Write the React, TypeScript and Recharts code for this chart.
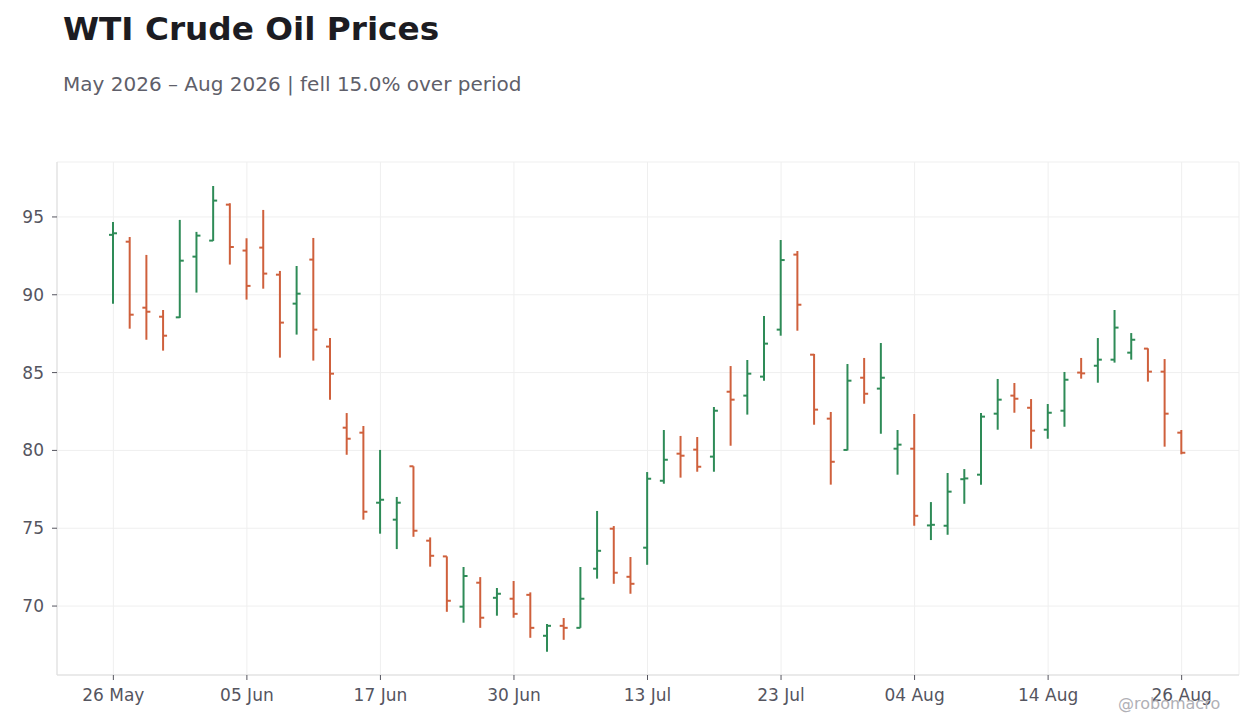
import React from 'react';
import { ComposedChart, Bar, XAxis, YAxis, CartesianGrid } from 'recharts';

// trading days (NYSE calendar), May 26 – Aug 26 2026
const dates = [
  '26 May', '27 May', '28 May', '29 May',
  '01 Jun', '02 Jun', '03 Jun', '04 Jun', '05 Jun',
  '08 Jun', '09 Jun', '10 Jun', '11 Jun', '12 Jun',
  '15 Jun', '16 Jun', '17 Jun', '18 Jun',
  '22 Jun', '23 Jun', '24 Jun', '25 Jun', '26 Jun',
  '29 Jun', '30 Jun', '01 Jul', '02 Jul',
  '06 Jul', '07 Jul', '08 Jul', '09 Jul', '10 Jul',
  '13 Jul', '14 Jul', '15 Jul', '16 Jul', '17 Jul',
  '20 Jul', '21 Jul', '22 Jul', '23 Jul', '24 Jul',
  '27 Jul', '28 Jul', '29 Jul', '30 Jul', '31 Jul',
  '03 Aug', '04 Aug', '05 Aug', '06 Aug', '07 Aug',
  '10 Aug', '11 Aug', '12 Aug', '13 Aug', '14 Aug',
  '17 Aug', '18 Aug', '19 Aug', '20 Aug', '21 Aug',
  '24 Aug', '25 Aug', '26 Aug',
];

const opens = [
  93.85, 93.41, 89.17, 88.59, 88.55, 92.45, 93.48, 95.79, 92.84, 93.03,
  91.29, 89.43, 92.26, 86.67, 81.46, 81.14, 76.64, 75.55, 78.98, 74.2,
  73.19, 69.96, 71.5, 70.53, 70.47, 70.72, 68.09, 68.73, 68.6, 72.4,
  74.97, 71.88, 73.75, 78.05, 79.79, 80.05, 79.6, 83.77, 83.52, 84.74,
  87.76, 92.58, 86.15, 82.04, 80.03, 84.67, 83.97, 80.11, 80.11, 75.18,
  75.16, 78.15, 78.44, 82.36, 83.52, 82.74, 81.33, 82.55, 85.0, 85.44,
  85.83, 86.28, 86.54, 85.06, 81.14,
];

const highs = [
  94.68, 93.71, 92.56, 89.02, 94.81, 94.04, 96.99, 95.88, 93.63, 95.45,
  91.53, 91.85, 93.65, 87.22, 82.4, 81.57, 80.03, 77.01, 78.98, 74.41,
  73.19, 72.51, 71.86, 71.16, 71.61, 70.88, 68.84, 69.23, 72.51, 76.11,
  75.14, 73.15, 78.61, 81.31, 80.93, 80.86, 82.79, 85.42, 85.81, 88.64,
  93.52, 92.81, 86.2, 82.47, 85.55, 85.94, 86.9, 81.31, 82.34, 76.68,
  78.55, 78.8, 82.4, 84.59, 84.33, 83.3, 82.98, 85.04, 85.94, 87.22,
  89.02, 87.54, 86.56, 85.87, 81.31,
];

const lows = [
  89.43, 87.82, 87.11, 86.41, 88.51, 90.14, 93.46, 91.94, 89.69, 90.39,
  85.96, 87.44, 85.77, 83.26, 79.72, 75.55, 74.65, 73.66, 74.45, 72.53,
  69.63, 68.93, 68.6, 69.38, 69.25, 67.96, 67.07, 67.83, 68.6, 71.76,
  71.43, 70.79, 72.65, 77.86, 78.25, 78.63, 78.63, 80.3, 82.3, 84.48,
  87.37, 87.69, 81.65, 77.8, 80.0, 83.0, 81.07, 78.44, 75.16, 74.24,
  74.58, 76.57, 77.8, 81.33, 82.42, 80.11, 80.75, 81.52, 84.61, 84.35,
  85.64, 85.83, 84.42, 80.24, 79.75,
];

const closes = [
  93.95, 88.72, 88.91, 87.37, 92.19, 93.8, 96.05, 93.07, 90.57, 91.36,
  88.21, 90.07, 87.76, 84.93, 80.75, 76.06, 76.83, 76.64, 74.84, 73.23,
  70.34, 71.93, 69.25, 70.79, 69.5, 68.6, 68.73, 68.6, 70.47, 73.55,
  72.14, 71.43, 78.18, 79.4, 79.66, 78.95, 82.55, 83.26, 84.93, 86.86,
  92.23, 89.36, 82.62, 79.27, 84.48, 83.64, 84.67, 80.37, 75.8, 75.22,
  77.35, 78.2, 82.17, 83.26, 83.32, 81.27, 82.42, 84.54, 84.95, 85.83,
  87.89, 87.11, 85.06, 82.36, 79.85,
];

const yTicks = [70, 75, 80, 85, 90, 95];

const UP = '#2e8b57';
const DOWN = '#cf603c';
const FONT = '"DejaVu Sans", sans-serif';

const data = dates.map((date, i) => ({
  date,
  open: opens[i],
  high: highs[i],
  low: lows[i],
  close: closes[i],
  range: [lows[i], highs[i]],
}));

const OhlcShape = (props: any) => {
  const { x, y, width, height, payload } = props;
  const cx = x + width / 2;
  const { open, high, low, close } = payload;
  const span = high - low || 1;
  const py = (v: number) => y + ((high - v) / span) * height;
  const color = close >= open ? UP : DOWN;
  return (
    <g>
      <line x1={cx} x2={cx} y1={y} y2={y + height} stroke={color} strokeWidth={2} />
      <line x1={cx - 4} x2={cx} y1={py(open)} y2={py(open)} stroke={color} strokeWidth={2} />
      <line x1={cx} x2={cx + 4} y1={py(close)} y2={py(close)} stroke={color} strokeWidth={2} />
    </g>
  );
};

const tickStyle = { fill: '#55555f', fontSize: 17, fontFamily: FONT };

export default function App() {
  return (
    <div style={{ position: 'absolute', left: 0, top: 0, width: 1260, height: 728, background: '#fff', fontFamily: FONT }}>
      <div style={{ position: 'absolute', left: 63, top: 10, fontSize: 32.7, fontWeight: 'bold', color: '#1c1c22', whiteSpace: 'nowrap' }}>
        WTI Crude Oil Prices
      </div>
      <div style={{ position: 'absolute', left: 63, top: 72, fontSize: 20, color: '#5f5f6a', whiteSpace: 'nowrap' }}>
        May 2026 – Aug 2026 | fell 15.0% over period
      </div>
      <ComposedChart
        width={1260}
        height={728}
        data={data}
        margin={{ top: 162, right: 21, bottom: 13, left: 0 }}
      >
        <CartesianGrid stroke="#efefef" />
        <XAxis
          dataKey="date"
          interval={7}
          padding={{ left: 48, right: 49 }}
          height={40}
          tick={tickStyle}
          tickSize={5}
          tickMargin={9}
          axisLine={{ stroke: '#dddddd' }}
          tickLine={{ stroke: '#55555f' }}
        />
        <XAxis xAxisId="top" dataKey="date" orientation="top" height={0} tick={false} tickLine={false} axisLine={{ stroke: '#dddddd' }} />
        <YAxis
          domain={[65.57, 98.53]}
          ticks={yTicks}
          width={57}
          tick={tickStyle}
          tickSize={5}
          tickMargin={8}
          axisLine={{ stroke: '#dddddd' }}
          tickLine={{ stroke: '#55555f' }}
        />
        <YAxis yAxisId="right" orientation="right" domain={[65.57, 98.53]} width={0} tick={false} tickLine={false} axisLine={{ stroke: '#dddddd' }} />
        <Bar dataKey="range" barSize={8} shape={OhlcShape} isAnimationActive={false} />
      </ComposedChart>
      <div style={{ position: 'absolute', left: 1118, top: 694, fontSize: 16, color: '#b0b0b6', whiteSpace: 'nowrap' }}>
        @robomacro
      </div>
    </div>
  );
}
